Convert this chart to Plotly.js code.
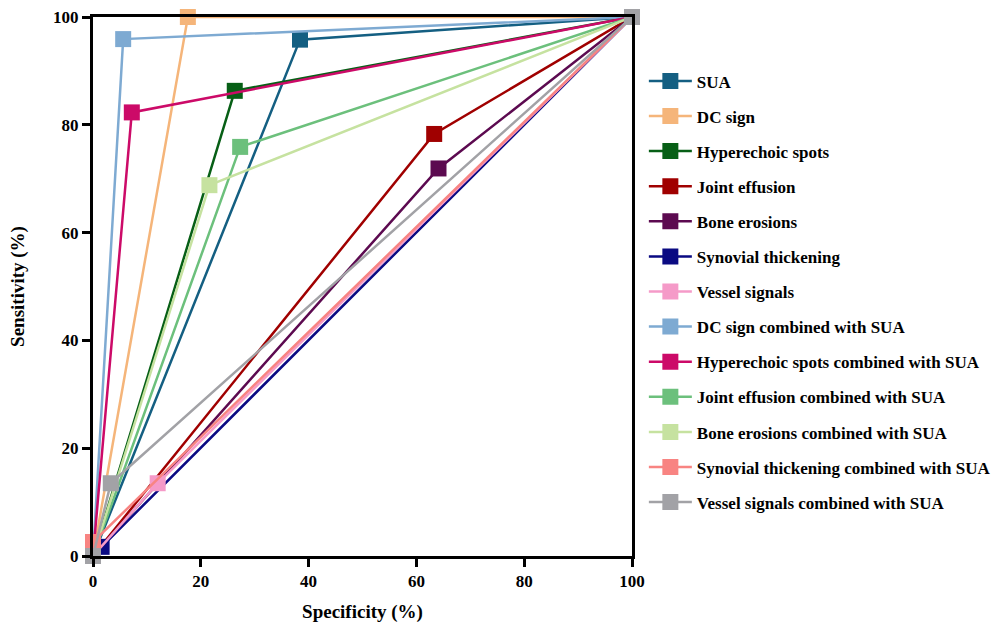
<!DOCTYPE html>
<html><head><meta charset="utf-8">
<script src="https://cdn.plot.ly/plotly-3.0.1.min.js"></script>
<style>body{margin:0;background:#fff}#chart{width:993px;height:627px}</style>
</head><body><div id="chart"></div>
<script>
const seriesNames = ["SUA","DC sign","Hyperechoic spots","Joint effusion","Bone erosions","Synovial thickening","Vessel signals","DC sign combined with SUA","Hyperechoic spots combined with SUA","Joint effusion combined with SUA","Bone erosions combined with SUA","Synovial thickening combined with SUA","Vessel signals combined with SUA"];
const seriesColors = ["#145f82","#f5b57a","#075f16","#a00000","#5c0a50","#0a0a82","#f59ac8","#7eaad2","#cc0a68","#6cc07c","#c6e2a0","#f88482","#a2a2a6"];
const specX = [
  [0, 38.4, 100],
  [0, 17.6, 100],
  [0, 26.3, 100],
  [0, 63.3, 100],
  [0, 64.1, 100],
  [0, 1.6, 100],
  [0, 12.0, 100],
  [0, 5.6, 100],
  [0, 7.2, 100],
  [0, 27.3, 100],
  [0, 21.6, 100],
  [0, 0, 100],
  [0, 3.3, 100]
];
const sensY = [
  [0, 95.8, 100],
  [0, 100, 100],
  [0, 86.3, 100],
  [0, 78.3, 100],
  [0, 71.9, 100],
  [0, 1.7, 100],
  [0, 13.5, 100],
  [0, 95.9, 100],
  [0, 82.3, 100],
  [0, 75.9, 100],
  [0, 68.8, 100],
  [0, 2.6, 100],
  [0, 13.5, 100]
];
const refX = [0, 100];
const refY = [0, 100];
const tickVals = [0, 20, 40, 60, 80, 100];

const traces = [{
  x: refX, y: refY, mode: 'lines', showlegend: false, hoverinfo: 'skip',
  line: {color: '#e03030', width: 1, dash: 'dot'}
}];
seriesNames.forEach((n, i) => {
  traces.push({
    x: specX[i], y: sensY[i], name: n, mode: 'lines+markers', cliponaxis: false,
    legendgroup: 'g' + i,
    line: {color: seriesColors[i], width: 2.5},
    marker: {symbol: 'square', size: 16, color: seriesColors[i]}
  });
});

const FAM = '"Liberation Serif", "Times New Roman", serif';
const axisCommon = {
  range: [0, 100], tickvals: tickVals, showgrid: false, zeroline: false,
  showline: true, linecolor: '#000', linewidth: 3, mirror: true,
  ticks: 'outside', ticklen: 8, tickwidth: 3, tickcolor: '#000',
  tickfont: {family: FAM, size: 17, color: '#000', weight: 'bold'}
};
const layout = {
  width: 993, height: 627,
  margin: {l: 93, r: 361, t: 17, b: 71, autoexpand: false},
  paper_bgcolor: '#fff', plot_bgcolor: '#fff',
  font: {family: FAM, color: '#000'},
  xaxis: Object.assign({}, axisCommon, {
    title: {text: 'Specificity (%)', font: {family: FAM, size: 19, color: '#000', weight: 'bold'}, standoff: 15}
  }),
  yaxis: Object.assign({}, axisCommon, {
    title: {text: 'Sensitivity (%)', font: {family: FAM, size: 19, color: '#000', weight: 'bold'}, standoff: 24}
  }),
  legend: {
    x: 1.022, y: 0.914, xanchor: 'left', yanchor: 'top',
    font: {family: FAM, size: 17, color: '#000', weight: 'bold'},
    tracegroupgap: 10, itemwidth: 43, bgcolor: 'rgba(0,0,0,0)'
  },
  showlegend: true
};
Plotly.newPlot('chart', traces, layout, {displayModeBar: false, staticPlot: true});
</script></body></html>
